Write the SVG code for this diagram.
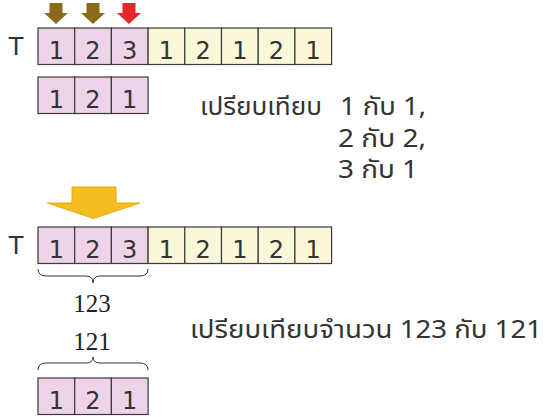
<svg xmlns="http://www.w3.org/2000/svg" width="548" height="417" viewBox="0 0 548 417">
<style>
.p{fill:#EED3E8;stroke:#3a3a3a;stroke-width:1.2}
.y{fill:#FAF8D8;stroke:#3a3a3a;stroke-width:1.2}
.d{font-family:"DejaVu Sans","Noto Sans",sans-serif;font-size:24px;fill:#333;text-anchor:middle}
.th{font-family:"Noto Sans Thai","Noto Sans","DejaVu Sans",sans-serif;font-size:25px;fill:#333}
.sr{font-family:"Liberation Serif","Times New Roman",serif;font-size:25px;fill:#222;text-anchor:middle}
.br{fill:none;stroke:#333;stroke-width:1}
</style>
<defs>
<g id="sarrow"><path d="M-6.5,0 H6.5 V10 H12 L0,21 L-12,10 H-6.5 Z"/></g>
</defs>
<g id="pointers">
<use href="#sarrow" x="56" y="3" fill="#8A6B1E"/>
<use href="#sarrow" x="93" y="3" fill="#8A6B1E"/>
<use href="#sarrow" x="129" y="3" fill="#E8252B"/>
</g>
<g id="row1">
<text class="d" x="16" y="55" text-anchor="start">T</text>
<rect class="p" x="38" y="28" width="36.7" height="36.5"/>
<rect class="p" x="74.7" y="28" width="36.7" height="36.5"/>
<rect class="p" x="111.4" y="28" width="36.7" height="36.5"/>
<rect class="y" x="148.1" y="28" width="36.7" height="36.5"/>
<rect class="y" x="184.8" y="28" width="36.7" height="36.5"/>
<rect class="y" x="221.5" y="28" width="36.7" height="36.5"/>
<rect class="y" x="258.2" y="28" width="36.7" height="36.5"/>
<rect class="y" x="294.9" y="28" width="36.7" height="36.5"/>
<text class="d" x="56.4" y="58.5">1</text>
<text class="d" x="93" y="58.5">2</text>
<text class="d" x="129.7" y="58.5">3</text>
<text class="d" x="166.4" y="58.5">1</text>
<text class="d" x="203.1" y="58.5">2</text>
<text class="d" x="239.8" y="58.5">1</text>
<text class="d" x="276.5" y="58.5">2</text>
<text class="d" x="313.2" y="58.5">1</text>
</g>
<g id="pattern1">
<rect class="p" x="38" y="77" width="36.7" height="36.5"/>
<rect class="p" x="74.7" y="77" width="36.7" height="36.5"/>
<rect class="p" x="111.4" y="77" width="36.7" height="36.5"/>
<text class="d" x="56.4" y="107.5">1</text>
<text class="d" x="93" y="107.5">2</text>
<text class="d" x="129.7" y="107.5">1</text>
</g>
<g id="text1">
<text class="th" x="200" y="115" textLength="122" lengthAdjust="spacingAndGlyphs">เปรียบเทียบ</text>
<text class="th" x="340" y="115" textLength="86" lengthAdjust="spacingAndGlyphs">1 กับ 1,</text>
<text class="th" x="338" y="146.5" textLength="88" lengthAdjust="spacingAndGlyphs">2 กับ 2,</text>
<text class="th" x="338" y="178" textLength="80" lengthAdjust="spacingAndGlyphs">3 กับ 1</text>
</g>
<g id="bigarrow">
<path d="M72,187 H116 V203 H140 L93.5,218.5 L47.5,203 H72 Z" fill="#F5BD1F" stroke="#E8A812" stroke-width="1"/>
</g>
<g id="row2">
<text class="d" x="16" y="254" text-anchor="start">T</text>
<rect class="p" x="38" y="227" width="36.7" height="36.5"/>
<rect class="p" x="74.7" y="227" width="36.7" height="36.5"/>
<rect class="p" x="111.4" y="227" width="36.7" height="36.5"/>
<rect class="y" x="148.1" y="227" width="36.7" height="36.5"/>
<rect class="y" x="184.8" y="227" width="36.7" height="36.5"/>
<rect class="y" x="221.5" y="227" width="36.7" height="36.5"/>
<rect class="y" x="258.2" y="227" width="36.7" height="36.5"/>
<rect class="y" x="294.9" y="227" width="36.7" height="36.5"/>
<text class="d" x="56.4" y="257.5">1</text>
<text class="d" x="93" y="257.5">2</text>
<text class="d" x="129.7" y="257.5">3</text>
<text class="d" x="166.4" y="257.5">1</text>
<text class="d" x="203.1" y="257.5">2</text>
<text class="d" x="239.8" y="257.5">1</text>
<text class="d" x="276.5" y="257.5">2</text>
<text class="d" x="313.2" y="257.5">1</text>
</g>
<g id="connectors">
<path class="br" d="M38,269 Q38,276 46,276 H86 Q93,276 93,283 Q93,276 100,276 H140 Q148,276 148,269"/>
<path class="br" d="M38,370 Q38,363 46,363 H86 Q93,363 93,357 Q93,363 100,363 H140 Q148,363 148,370"/>
</g>
<g id="numbers">
<text class="sr" x="92" y="312">123</text>
<text class="sr" x="92" y="350">121</text>
</g>
<g id="text2">
<text class="th" x="190" y="338" textLength="352" lengthAdjust="spacingAndGlyphs">เปรียบเทียบจำนวน 123 กับ 121</text>
</g>
<g id="pattern2">
<rect class="p" x="38" y="378" width="36.7" height="36.5"/>
<rect class="p" x="74.7" y="378" width="36.7" height="36.5"/>
<rect class="p" x="111.4" y="378" width="36.7" height="36.5"/>
<text class="d" x="56.4" y="408.5">1</text>
<text class="d" x="93" y="408.5">2</text>
<text class="d" x="129.7" y="408.5">1</text>
</g>
</svg>
